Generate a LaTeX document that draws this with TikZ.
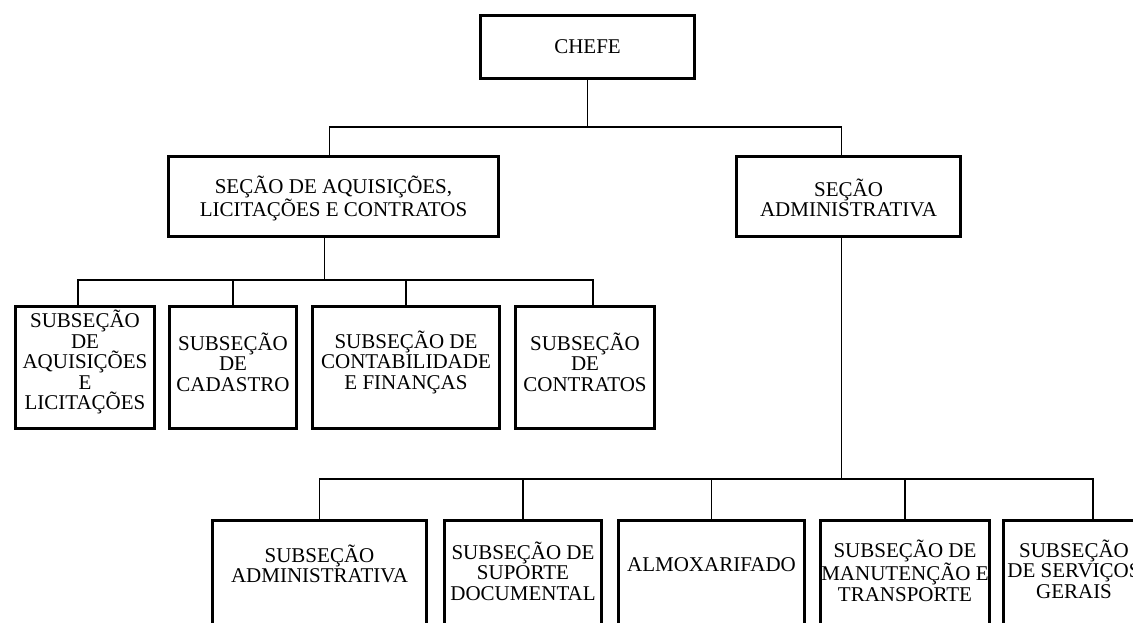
\documentclass[tikz,border=0pt]{standalone}
\usepackage{fontspec}
\setmainfont{Liberation Serif}
\usetikzlibrary{calc}
\tikzset{
  orgbox/.style={draw=black, line width=3pt, inner sep=0pt, fill=white},
  boxtext/.style={inner sep=0pt, align=center, font=\fontsize{21}{20.5}\selectfont},
  conn/.style={draw=black, line width=1.4pt},
}
\begin{document}
\begin{tikzpicture}[x=1pt, y=-1pt]
\useasboundingbox (0,0) rectangle (1133,623);
\clip (0,0) rectangle (1133,623);
\fill[white] (0,0) rectangle (1133,623);
% top level
\node[orgbox, minimum width=214pt, minimum height=63pt] (chefe) at (587.5,47) {};
\node[boxtext] (chefet) at (587.5,47) {CHEFE};
% sections
\node[orgbox, minimum width=330pt, minimum height=80pt] (sec1) at (333.5,196.5) {};
\node[boxtext] (sec1t) at (333.5,198) {SEÇÃO DE AQUISIÇÕES,\\LICITAÇÕES E CONTRATOS};
\node[orgbox, minimum width=224pt, minimum height=80pt] (sec2) at (848.5,196.5) {};
\node[boxtext] (sec2t) at (848.5,198) {SEÇÃO\\ADMINISTRATIVA};
% left children
\node[orgbox, minimum width=139pt, minimum height=122pt] (c1) at (85,367.5) {};
\node[boxtext] (c1t) at (85,362) {SUBSEÇÃO\\DE\\AQUISIÇÕES\\E\\LICITAÇÕES};
\node[orgbox, minimum width=127pt, minimum height=122pt] (c2) at (233,367.5) {};
\node[boxtext] (c2t) at (233,362) {SUBSEÇÃO\\DE\\CADASTRO};
\node[orgbox, minimum width=187pt, minimum height=122pt] (c3) at (406,367.5) {};
\node[boxtext] (c3t) at (406,362) {SUBSEÇÃO DE\\CONTABILIDADE\\E FINANÇAS};
\node[orgbox, minimum width=139pt, minimum height=122pt] (c4) at (585,367.5) {};
\node[boxtext] (c4t) at (585,362) {SUBSEÇÃO\\DE\\CONTRATOS};
% bottom children
\node[orgbox, minimum width=214pt, minimum height=150pt] (b1) at (319.5,595.5) {};
\node[boxtext] (b1t) at (319.5,564) {SUBSEÇÃO\\ADMINISTRATIVA};
\node[orgbox, minimum width=157pt, minimum height=150pt] (b2) at (523,595.5) {};
\node[boxtext] (b2t) at (523,571) {SUBSEÇÃO DE\\SUPORTE\\DOCUMENTAL};
\node[orgbox, minimum width=186pt, minimum height=150pt] (b3) at (711.5,595.5) {};
\node[boxtext] (b3t) at (711.5,565) {ALMOXARIFADO};
\node[orgbox, minimum width=169pt, minimum height=150pt] (b4) at (905,595.5) {};
\node[boxtext] (b4t) at (905,571) {SUBSEÇÃO DE\\MANUTENÇÃO E\\TRANSPORTE};
\node[orgbox, minimum width=179pt, minimum height=150pt] (b5) at (1093,595.5) {};
\node[boxtext] (b5t) at (1074,569) {SUBSEÇÃO\\DE SERVIÇOS\\GERAIS};
% connectors level 1
\coordinate (j1) at ($(chefe.south)+(0,47)$);
\draw[conn] (chefe.south) -- (j1);
\draw[conn] ([xshift=-4pt]sec1.north) -- ([xshift=-4pt]sec1.north |- j1) -- ([xshift=-7pt]sec2.north |- j1) -- ([xshift=-7pt]sec2.north);
% left branch
\coordinate (j2) at ($([xshift=-9pt]sec1.south)+(0,42)$);
\draw[conn] ([xshift=-9pt]sec1.south) -- (j2);
\draw[conn] ([xshift=-7pt]c1.north) -- ([xshift=-7pt]c1.north |- j2) -- ([xshift=8pt]c4.north |- j2) -- ([xshift=8pt]c4.north);
\draw[conn] (c2.north) -- (c2.north |- j2);
\draw[conn] (c3.north) -- (c3.north |- j2);
% right branch
\coordinate (j3) at ($([xshift=-7pt]sec2.south)+(0,241)$);
\draw[conn] ([xshift=-7pt]sec2.south) -- (j3);
\draw[conn] (b1.north) -- (b1.north |- j3) -- (b5.north |- j3) -- (b5.north);
\draw[conn] (b2.north) -- (b2.north |- j3);
\draw[conn] (b3.north) -- (b3.north |- j3);
\draw[conn] (b4.north) -- (b4.north |- j3);
\end{tikzpicture}
\end{document}
